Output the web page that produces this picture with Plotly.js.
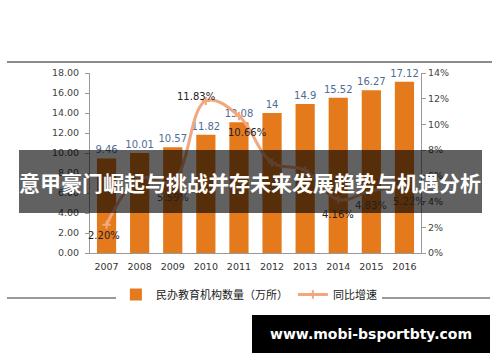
<!DOCTYPE html>
<html><head><meta charset="utf-8">
<script src="https://cdn.plot.ly/plotly-3.0.1.min.js"></script>
<style>html,body{margin:0;padding:0;background:#fff}#chart{width:500px;height:362px}</style>
</head><body><div id="chart"></div>
<script>
const years = ['2007','2008','2009','2010','2011','2012','2013','2014','2015','2016'];
const institutions = [9.46, 10.01, 10.57, 11.82, 13.08, 14, 14.9, 15.52, 16.27, 17.12];
const growth = [2.20, 5.81, 5.59, 11.83, 10.66, 7.03, 6.43, 4.16, 4.83, 5.22];
const growthLabels = ['2.20%', '', '5.59%', '11.83%', '10.66%', '', '', '4.16%', '4.83%', '5.22%'];
const barName = '民办教育机构数量（万所）';
const lineName = '同比增速';
const titleText = '意甲豪门崛起与挑战并存未来发展趋势与机遇分析';
const siteText = 'www.mobi-bsportbty.com';

const numFont = 'DejaVu Sans, Verdana, sans-serif';
const cjkFont = 'Noto Sans CJK SC, sans-serif';

// label offsets (pixels) relative to each growth point
const labelDx = [-3, 0, 0, -10, 8, 0, 0, 0, 0, 5];
const labelDy = [-11, -15, -16, 4, -17, -15, -15, -15, -15, -16];

const bars = {
  type: 'bar', x: years, y: institutions, name: barName,
  marker: {color: '#E47A1C'},
  text: institutions.map(String), textposition: 'outside', cliponaxis: false, constraintext: 'none',
  textfont: {family: numFont, size: 10, color: '#4F6C93'},
  hoverinfo: 'skip'
};
const line = {
  type: 'scatter', mode: 'lines+markers', x: years, y: growth, yaxis: 'y2', name: lineName,
  line: {color: '#F2A77C', width: 3, shape: 'spline', smoothing: 1.1},
  marker: {color: '#F7C3A0', size: 6, symbol: 'cross-thin', line: {color: '#F2A77C', width: 2}},
  cliponaxis: false, hoverinfo: 'skip'
};

const lineAnn = [];
years.forEach((yr, i) => {
  if (!growthLabels[i]) return;
  lineAnn.push({x: i, y: growth[i], xref: 'x', yref: 'y2', text: growthLabels[i], showarrow: false,
    xshift: labelDx[i], yshift: labelDy[i], xanchor: 'center', yanchor: 'middle',
    font: {family: numFont, size: 10, color: '#222'}});
});

const layout = {
  width: 500, height: 362,
  margin: {l: 90, r: 79, t: 73, b: 109},
  paper_bgcolor: '#fff', plot_bgcolor: '#fff',
  showlegend: true,
  legend: {orientation: 'h', x: 0.48, xanchor: 'center', y: -0.15, yanchor: 'top',
           font: {family: cjkFont, size: 11, color: '#222'}, itemwidth: 30, traceorder: 'normal'},
  bargap: 0.42,
  xaxis: {type: 'category', range: [-0.5, years.length - 0.5], autorange: false,
          showline: true, linecolor: '#999', linewidth: 1, ticks: '', ticklabelstandoff: 5,
          tickfont: {family: numFont, size: 9.5, color: '#333'}, showgrid: false, fixedrange: true},
  yaxis: {range: [0, 18], autorange: false, dtick: 2, tickformat: '.2f', showline: true, linecolor: '#999',
          ticks: 'outside', ticklen: 4, tickcolor: '#999', showgrid: false, zeroline: false, ticklabelstandoff: 4,
          tickfont: {family: numFont, size: 9.5, color: '#444'}},
  yaxis2: {overlaying: 'y', side: 'right', range: [0, 14], autorange: false, dtick: 2, ticksuffix: '%',
           showline: true, linecolor: '#999', ticks: 'outside', ticklen: 4, tickcolor: '#999',
           showgrid: false, zeroline: false, tickfont: {family: numFont, size: 9.5, color: '#444'}},
  shapes: [
    {type: 'line', xref: 'paper', yref: 'paper', x0: -0.2508, x1: 1.2145, y0: 1.0611, y1: 1.0611,
     line: {color: '#666', width: 1.5}, layer: 'above'},
    {type: 'line', xref: 'paper', yref: 'paper', x0: -0.2508, x1: 1.2085, y0: -0.25, y1: -0.25,
     line: {color: '#777', width: 1.5}, layer: 'above'},
    {type: 'rect', xref: 'paper', yref: 'paper', x0: -0.2145, x1: 1.1843, y0: 0.2222, y1: 0.5722,
     fillcolor: 'rgba(0,0,0,0.62)', line: {width: 0}, layer: 'above'},
    {type: 'rect', xref: 'paper', yref: 'paper', x0: 0.4894, x1: 1.2085, y0: -0.5556, y1: -0.3444,
     fillcolor: '#000', line: {width: 0}, layer: 'above'}
  ],
  annotations: lineAnn.concat([
    {xref: 'paper', yref: 'paper', x: 0.4834, y: 0.3944, text: '<b>' + titleText + '</b>', showarrow: false,
     font: {family: cjkFont, size: 21, color: '#fff'}, xanchor: 'center', yanchor: 'middle'},
    {xref: 'paper', yref: 'paper', x: 0.849, y: -0.45, text: '<b>' + siteText + '</b>', showarrow: false,
     font: {family: 'DejaVu Sans, sans-serif', size: 14, color: '#fff'}, xanchor: 'center', yanchor: 'middle'}
  ])
};
Plotly.newPlot('chart', [bars, line], layout, {displayModeBar: false, staticPlot: true});
</script></body></html>
